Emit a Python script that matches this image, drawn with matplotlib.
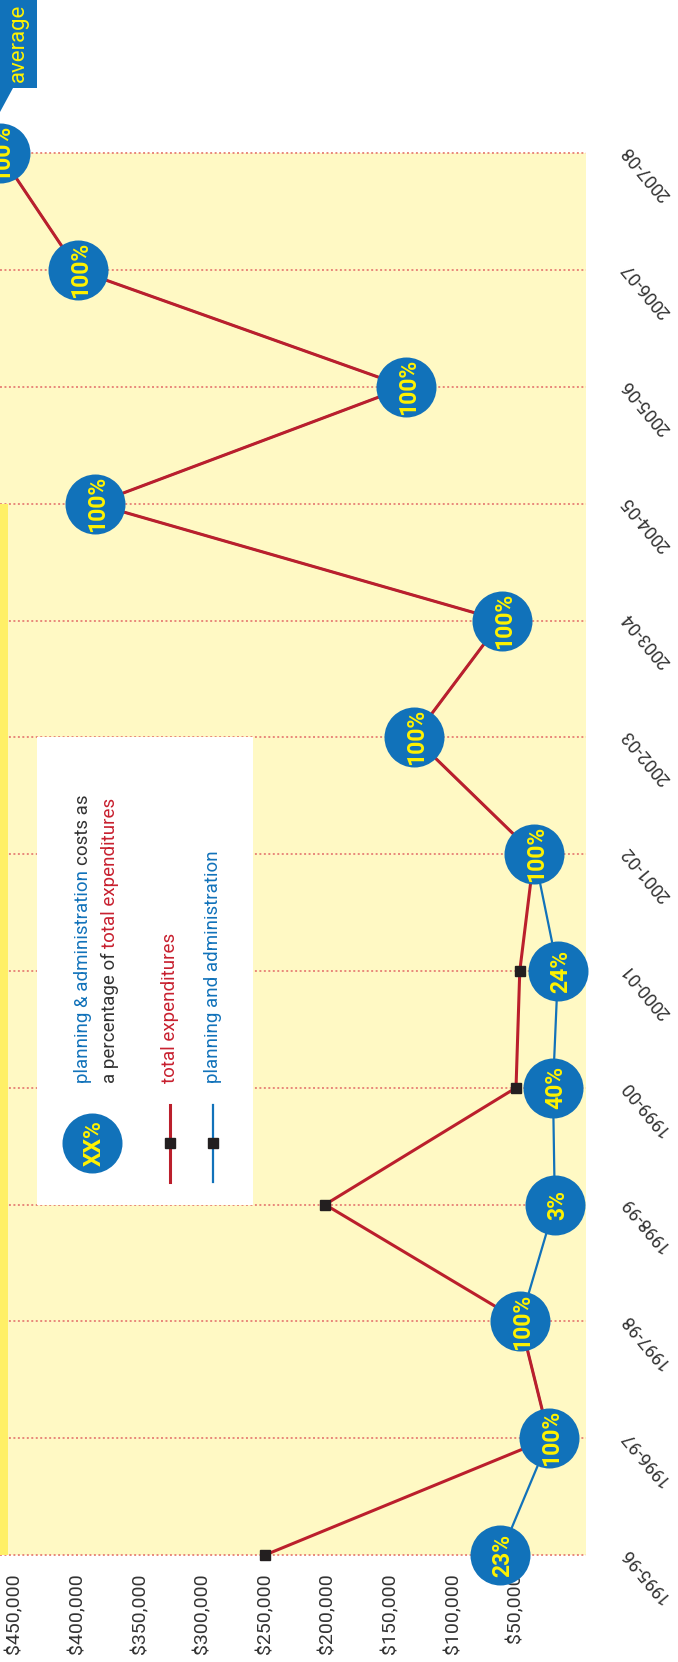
import matplotlib

matplotlib.use("Agg")
import matplotlib.pyplot as plt
from matplotlib.patches import Rectangle, Polygon
from matplotlib.ticker import FuncFormatter

plt.rcParams["font.family"] = ["Roboto", "DejaVu Sans"]

years = ["1995-96", "1996-97", "1997-98", "1998-99", "1999-00", "2000-01", "2001-02",
         "2002-03", "2003-04", "2004-05", "2005-06", "2006-07", "2007-08"]
total_exp = [250000, 23000, 46000, 202000, 49500, 46500, 35000,
             131000, 61000, 386000, 137500, 399500, 462000]
plan_admin = [62000, 23000, 46000, 18500, 20000, 16000, 35000,
              131000, 61000, 386000, 137500, 399500, 462000]
pct_share = [23, 100, 100, 3, 40, 24, 100, 100, 100, 100, 100, 100, 100]
money_ticks = [50000, 100000, 150000, 200000, 250000, 300000, 350000, 400000, 450000]

BLUE = "#1172ba"
RED = "#bb1f2c"
RED_TXT = "#c8202f"
BG = "#fff9c4"
STRIP = "#fff066"
GRID = "#e8877a"
LABEL_YEL = "#fff200"
DARK = "#333333"

W, H = 678, 1662
fig = plt.figure(figsize=(W / 100, H / 100), dpi=100)


def fx(px):
    return px / W


def fy(py):
    return 1 - py / H


# value axis runs right-to-left, years bottom-to-top
ax = fig.add_axes([0, fy(1555), fx(586), (1555 - 153.3) / H])
ax.set_xlim(461700, -6400)
ax.set_ylim(0, 12)
ax.set_facecolor(BG)
for sp in ax.spines.values():
    sp.set_visible(False)

idx = list(range(len(years)))
for i in idx:
    ax.axhline(i, color=GRID, lw=1.4, ls=(0, (1, 1.3)), zorder=1, clip_on=False)

ax.add_patch(Rectangle((455300, 0), 461700 - 455300, 9, facecolor=STRIP,
                       edgecolor="none", zorder=1.5))

ax.plot(plan_admin, idx, color=BLUE, lw=1.6, zorder=3, clip_on=False)
ax.plot(total_exp, idx, color=RED, lw=2.2, zorder=4, clip_on=False)
ax.plot(total_exp, idx, ls="none", marker="s", ms=6.5, color="#231f20", zorder=5,
        clip_on=False)
ax.scatter(plan_admin, idx, s=1866, color=BLUE, zorder=6, clip_on=False, linewidths=0)
for x, i, p in zip(plan_admin, idx, pct_share):
    ax.text(x, i, f"{p}%", rotation=90, rotation_mode="anchor", ha="center",
            va="center_baseline", color=LABEL_YEL, fontsize=16.5, fontweight="bold",
            zorder=7, clip_on=False)

ax.set_xticks(money_ticks)
ax.xaxis.set_major_formatter(FuncFormatter(lambda v, _: f"${v:,.0f}"))
ax.tick_params(axis="x", length=0, pad=13.5, labelsize=14, labelcolor=DARK, labelrotation=90)
ax.set_yticks([])
for i, yr in zip(idx, years):
    ax.text(1.102, i - 0.17, yr, transform=ax.get_yaxis_transform(), rotation=130,
            ha="center", va="center", fontsize=13, color=DARK, clip_on=False)

# legend panel
ax.add_patch(Rectangle((260000, 3), 432000 - 260000, 4, facecolor="white",
                       edgecolor="none", zorder=2))
fig.add_artist(plt.Line2D([fx(170)] * 2, [fy(1105), fy(1182)], color=RED, lw=2.2))
fig.add_artist(plt.Line2D([fx(213)] * 2, [fy(1105), fy(1182)], color=BLUE, lw=1.6))
for xp in (170, 213):
    fig.add_artist(plt.Line2D([fx(xp)], [fy(1143)], ls="none", marker="s", ms=6.5,
                              color="#231f20"))
fig.add_artist(plt.Line2D([fx(92)], [fy(1143)], ls="none", marker="o", ms=43.2,
                          color=BLUE, markeredgewidth=0))
fig.text(fx(92), fy(1143), "XX%", rotation=90, rotation_mode="anchor", ha="center",
         va="center_baseline", color=LABEL_YEL, fontsize=16.5, fontweight="bold")

renderer = fig.canvas.get_renderer()


def vtext(x_px, y_px, pieces, size):
    # stack differently coloured pieces along a vertical baseline, reading upward
    probe = fig.text(0, 0, "x x", fontsize=size)
    w2 = probe.get_window_extent(renderer).width
    probe.set_text("xx")
    gap = w2 - probe.get_window_extent(renderer).width
    probe.remove()
    y = fy(y_px)
    for s, c in pieces:
        t = fig.text(fx(x_px), y, s, rotation=90, ha="center", va="bottom",
                     color=c, fontsize=size)
        bb = t.get_window_extent(renderer)
        y = (bb.y1 + gap) / H


vtext(83, 1083, [("planning & administration", BLUE), ("costs as", DARK)], 13.5)
vtext(110, 1083, [("a percentage of", DARK), ("total expenditures", RED_TXT)], 13.5)
vtext(170, 1083, [("total expenditures", RED_TXT)], 13.5)
vtext(213, 1083, [("planning and administration", BLUE)], 13.5)

# "average" callout
fig.add_artist(Polygon([(fx(0), fy(0)), (fx(37), fy(0)), (fx(37), fy(88)), (fx(13), fy(88)),
                        (fx(0), fy(112))], closed=True, facecolor=BLUE, edgecolor="none",
                       transform=fig.transFigure))
fig.text(fx(18), fy(43), "average", rotation=90, ha="center", va="center", color=LABEL_YEL,
         fontsize=16)

fig.savefig("out.png", dpi=100)
